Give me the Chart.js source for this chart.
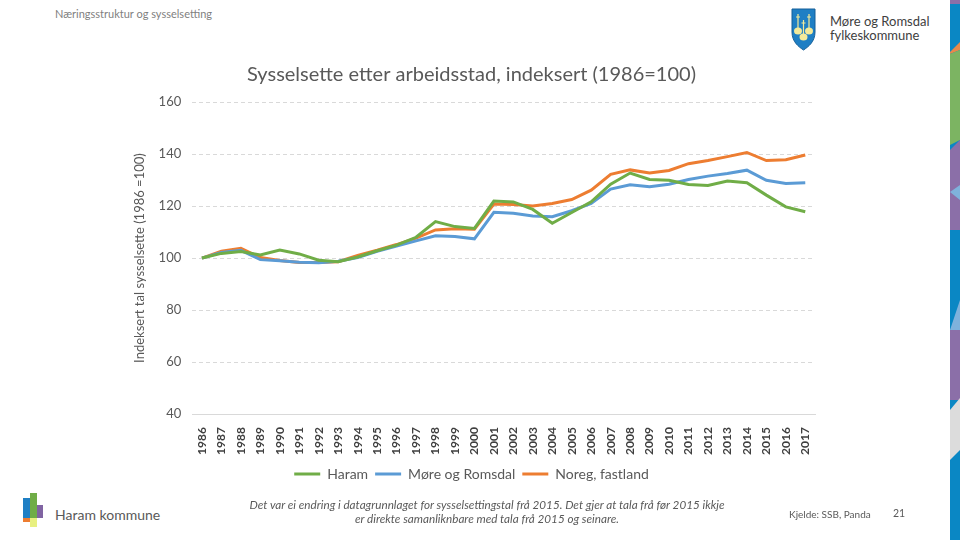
<!DOCTYPE html>
<html>
<head>
<meta charset="utf-8">
<script src="https://cdn.jsdelivr.net/npm/chart.js@4.4.1/dist/chart.umd.min.js"></script>
<style>
  html, body { margin:0; padding:0; background:#fff; }
  body { width:960px; height:540px; position:relative; overflow:hidden; font-family: Lato, "Open Sans", sans-serif; }
  #wrap { position:absolute; left:100px; top:40px; width:740px; height:460px; }
  .hdr { position:absolute; left:55px; top:7px; font-size:11px; color:#7f7f7f; }
  .logo-txt { position:absolute; left:830px; top:14px; font-size:13px; line-height:14px; color:#404040; }
  .haram { position:absolute; left:55px; top:506px; font-size:14px; color:#595959; }
  .note { position:absolute; left:187px; width:600px; top:497px; font-size:11.7px; line-height:14px; color:#595959; font-style:italic; text-align:center; }
  .src { position:absolute; left:789px; top:508px; font-size:10px; color:#595959; }
  .pg { position:absolute; left:893px; top:507px; font-size:10.5px; color:#595959; }
  .strip { position:absolute; left:950px; top:0; width:10px; height:540px; }
</style>
</head>
<body>
<div class="hdr">Næringsstruktur og sysselsetting</div>
<svg style="position:absolute;left:791px;top:8px" width="25" height="43" viewBox="0 0 25 43">
  <path d="M1 1 H24 V24 C24 34 17 39 12.5 42 C8 39 1 34 1 24 Z" fill="#1f7fc4" stroke="#155f98" stroke-width="1"/>
  <g stroke="#f3ea9a" stroke-width="1.2" fill="none">
    <path d="M7 6 V20 M5 9 H9"/><path d="M18 6 V20 M16 9 H20"/><path d="M12.5 12 V26 M10.5 15 H14.5"/>
  </g>
  <g fill="#f3ea9a">
    <ellipse cx="7" cy="23" rx="4" ry="3.5"/><ellipse cx="18" cy="23" rx="4" ry="3.5"/><ellipse cx="12.5" cy="29" rx="4" ry="3.5"/>
  </g>
</svg>
<div class="logo-txt">Møre og Romsdal<br>fylkeskommune</div>
<div id="wrap"><canvas id="c"></canvas></div>
<svg style="position:absolute;left:22px;top:493px" width="24" height="36">
  <rect x="1" y="5" width="7" height="20" fill="#1f7fc4"/>
  <rect x="1" y="25" width="7" height="4" fill="#ed7d31"/>
  <rect x="8" y="0" width="7" height="25" fill="#70ad47"/>
  <rect x="8" y="25" width="7" height="9" fill="#e8f080"/>
  <rect x="15" y="12" width="6" height="13" fill="#8064a2"/>
</svg>
<div class="haram">Haram kommune</div>
<div class="note">Det var ei endring i datagrunnlaget for sysselsettingstal frå 2015. Det gjer at tala frå før 2015 ikkje<br>er direkte samanliknbare med tala frå 2015 og seinare.</div>
<div class="src">Kjelde: SSB, Panda</div>
<div class="pg">21</div>
<svg class="strip" width="10" height="540">
  <rect x="0" y="0" width="10" height="540" fill="#0a87c4"/>
  <rect x="0" y="0" width="10" height="4" fill="#8b6fa8"/>
  <polygon points="0,52 10,42 10,50 0,54" fill="#e8894a"/>
  <polygon points="0,54 10,50 10,140 0,145" fill="#7cb462"/>
  <polygon points="0,150 10,140 10,230 0,230" fill="#8b6fa8"/>
  <polygon points="0,192 10,185 10,200" fill="#7fb2dc"/>
  <polygon points="0,330 10,300 10,330" fill="#7fb2dc"/>
  <rect x="0" y="330" width="10" height="70" fill="#8b6fa8"/>
  <polygon points="0,410 10,398 10,450 0,460" fill="#dcdcdc"/>
</svg>
<script>
const categories = ['1986','1987','1988','1989','1990','1991','1992','1993','1994','1995','1996','1997','1998','1999','2000','2001','2002','2003','2004','2005','2006','2007','2008','2009','2010','2011','2012','2013','2014','2015','2016','2017'];
const haram = [100,101.8,102.5,101.2,103.1,101.6,99.2,98.6,100.4,102.8,105.0,108.0,114.0,112.1,111.4,121.9,121.6,118.7,113.4,117.5,121.6,128.4,132.7,130.2,129.9,128.3,127.9,129.6,129.0,124.2,119.7,117.8];
const more = [100,102.2,103.0,99.4,99.0,98.4,98.2,98.8,100.2,102.6,104.6,106.6,108.6,108.3,107.4,117.6,117.2,116.2,115.9,118.2,121.0,126.5,128.2,127.4,128.4,130.2,131.5,132.5,133.8,129.9,128.7,129.0];
const noreg = [100,102.6,103.8,100.2,99.1,98.3,98.3,98.6,101.0,103.0,105.2,107.7,110.8,111.3,111.1,120.8,120.6,120.0,121.0,122.5,126.1,132.2,133.9,132.7,133.7,136.3,137.5,139.0,140.6,137.5,137.8,139.6];
const yTicks = [40,60,80,100,120,140,160];

const mk = (label, data, color) => ({label, data, borderColor: color, backgroundColor: color, borderWidth: 3, pointRadius: 0, tension: 0, fill: false});

new Chart(document.getElementById('c'), {
  type: 'line',
  data: {
    labels: categories,
    datasets: [mk('Haram', haram, '#70ad47'), mk('Møre og Romsdal', more, '#5b9bd5'), mk('Noreg, fastland', noreg, '#ed7d31')]
  },
  options: {
    responsive: true, maintainAspectRatio: false, animation: false,
    layout: { padding: { left: 28, right: 25, top: 15, bottom: 9 } },
    plugins: {
      title: { display: true, text: 'Sysselsette etter arbeidsstad, indeksert (1986=100)', color: '#595959', font: { family: 'Lato', size: 20, weight: 'normal' }, padding: { top: 8, bottom: 15 } },
      legend: {
        position: 'bottom',
        labels: {
          color: '#595959', font: { family: 'Lato', size: 14 }, boxWidth: 26, boxHeight: 3, padding: 7,
          generateLabels: (chart) => Chart.defaults.plugins.legend.labels.generateLabels(chart).map(l => Object.assign(l, { lineWidth: 0 }))
        }
      },
      tooltip: { enabled: false }
    },
    scales: {
      x: {
        offset: true,
        grid: { display: false },
        border: { display: true, color: '#d9d9d9', width: 1 },
        ticks: { autoSkip: false, maxRotation: 90, minRotation: 90, color: '#404040', font: { family: 'Lato', size: 12, weight: 'bold' }, padding: 5 }
      },
      y: {
        min: 40, max: 160,
        afterBuildTicks: (s) => { s.ticks = yTicks.map(v => ({ value: v })); },
        grid: { color: '#d9d9d9', drawTicks: false },
        border: { display: false, dash: [4, 3] },
        ticks: { color: '#595959', font: { family: 'Lato', size: 13 }, padding: 11 },
        title: { display: true, text: 'Indeksert tal sysselsette (1986 =100)', color: '#595959', font: { family: 'Lato', size: 13 }, padding: { top: 4, bottom: 0 } }
      }
    }
  }
});
</script>
</body>
</html>
